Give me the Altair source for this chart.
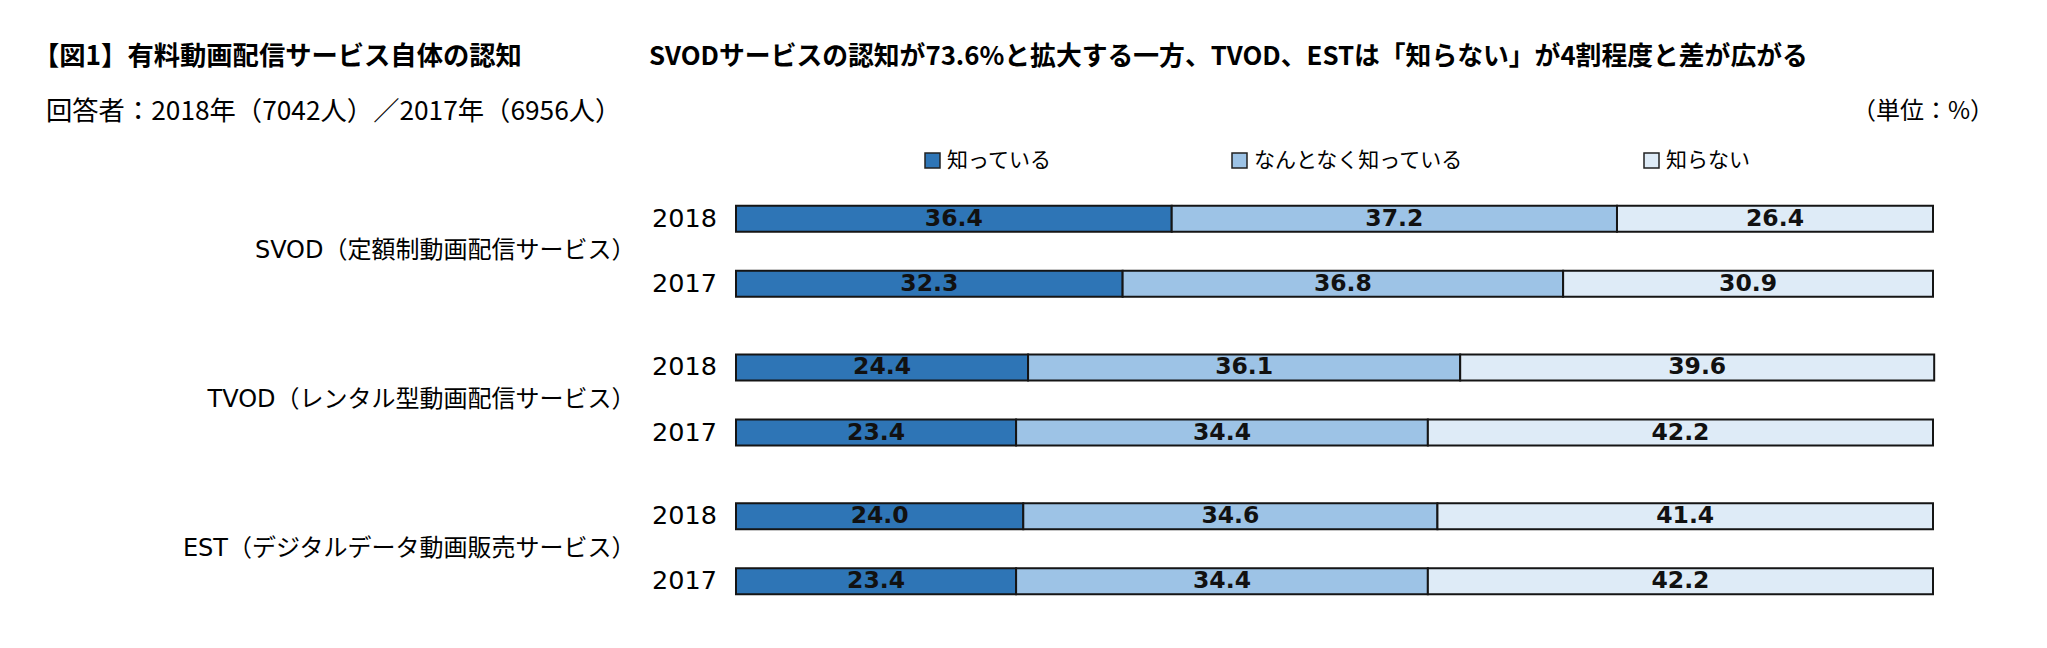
import altair as alt
import pandas as pd

# ---- data ----
groups = ["SVOD（定額制動画配信サービス）",
          "TVOD（レンタル型動画配信サービス）",
          "EST（デジタルデータ動画販売サービス）"]
years = ["2018", "2017"]
categories = ["知っている", "なんとなく知っている", "知らない"]
known = [36.4, 32.3, 24.4, 23.4, 24.0, 23.4]
somewhat = [37.2, 36.8, 36.1, 34.4, 34.6, 34.4]
unknown = [26.4, 30.9, 39.6, 42.2, 41.4, 42.2]
colors = ["#2E75B6", "#9DC3E6", "#DEEBF7"]

title_left = "【図1】有料動画配信サービス自体の認知"
subtitle_left = "回答者：2018年（7042人）／2017年（6956人）"
headline = "SVODサービスの認知が73.6%と拡大する一方、TVOD、ESTは「知らない」が4割程度と差が広がる"
unit_text = "（単位：%）"

rows = []
series = [known, somewhat, unknown]
i = 0
for g in groups:
    for y in years:
        for k, c in enumerate(categories):
            rows.append({"group": g, "year": y, "cat": c, "order": k, "value": series[k][i]})
        i += 1
df = pd.DataFrame(rows)
year_df = pd.DataFrame([{"group": g, "year": y} for g in groups for y in years])

JP = "Noto Sans CJK JP"
LAT = "DejaVu Sans, Noto Sans CJK JP"

y_enc = alt.Y("group:N", sort=groups,
              scale=alt.Scale(paddingInner=0, paddingOuter=0),
              axis=alt.Axis(title=None, domain=False, ticks=False, labelPadding=101,
                            labelFontSize=24, labelFont=LAT, labelColor="#000",
                            labelLimit=700))
yoff_enc = alt.YOffset("year:N", sort=years,
                       scale=alt.Scale(paddingInner=0.6, paddingOuter=0.443))

base = alt.Chart(df).transform_stack(
    stack="value", groupby=["group", "year"], as_=["v0", "v1"],
    sort=[alt.SortField("order", order="ascending")]
).transform_calculate(mid="(datum.v0 + datum.v1) / 2")

bars = base.mark_bar(stroke="#151515", strokeWidth=2).encode(
    x=alt.X("v0:Q", scale=alt.Scale(domain=[0, 100], nice=False), axis=None),
    x2="v1:Q",
    y=y_enc,
    yOffset=yoff_enc,
    color=alt.Color("cat:N", sort=categories,
                    scale=alt.Scale(domain=categories, range=colors),
                    legend=alt.Legend(title=None, orient="none", legendX=186, legendY=-27,
                                      direction="horizontal", symbolType="square",
                                      symbolSize=225, symbolStrokeColor="#222",
                                      symbolStrokeWidth=1.5, symbolOpacity=1,
                                      labelFontSize=21, labelFont=JP, labelColor="#000",
                                      columnPadding=177, labelOffset=4, padding=0,
                                      labelLimit=400)),
)

labels = base.mark_text(font="DejaVu Sans", fontWeight="bold", fontSize=23.5,
                        color="#111", baseline="middle", align="center").encode(
    x=alt.X("mid:Q"),
    y=alt.Y("group:N", sort=groups),
    yOffset=alt.YOffset("year:N", sort=years),
    text=alt.Text("value:Q", format=".1f"),
)

year_labels = alt.Chart(year_df).mark_text(font="DejaVu Sans", fontSize=25.5, color="#000",
                                           align="right", baseline="middle").encode(
    x=alt.value(-19),
    y=alt.Y("group:N", sort=groups),
    yOffset=alt.YOffset("year:N", sort=years),
    text="year:N",
)

def note(txt, x, y, size, weight="normal", align="left"):
    return alt.Chart(pd.DataFrame({"t": [txt]})).mark_text(
        font=JP, fontSize=size, fontWeight=weight, color="#000",
        align=align, baseline="middle").encode(
        text="t:N", x=alt.value(x), y=alt.value(y))

notes = (note(title_left, -703, -120, 26.3, "bold")
         + note(subtitle_left, -690, -65, 26.3)
         + note(headline, -87, -120, 25.8, "bold")
         + note(unit_text, 1258, -65, 24, align="right"))

chart = alt.layer(bars, labels, year_labels, notes).properties(
    width=1197, height=446,
    autosize=alt.AutoSizeParams(type="none"),
    padding={"left": 728, "top": 169, "right": 100, "bottom": 10},
    background="white",
).configure_view(strokeWidth=0, stroke=None)

chart.save("out.html", embed_options={"renderer": "svg", "actions": False})
